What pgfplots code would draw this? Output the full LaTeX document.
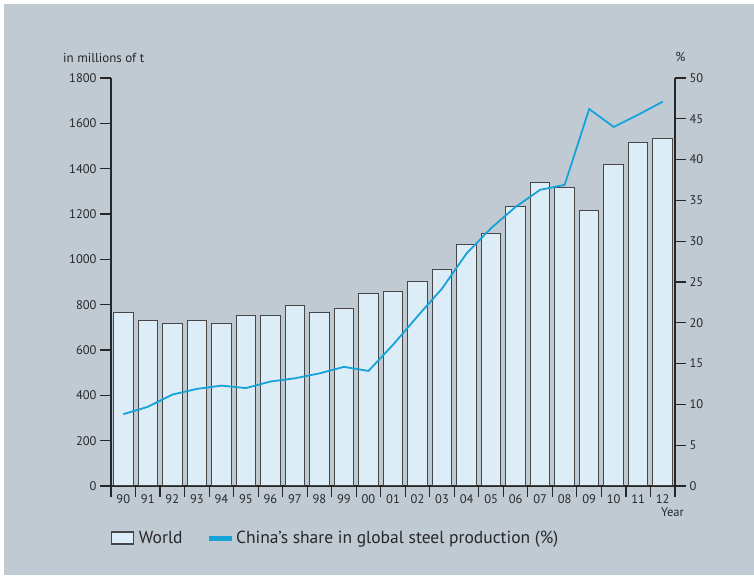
\documentclass[border=0pt]{standalone}
\usepackage{pgfplots}
\pgfplotsset{compat=1.18}
\usepackage{fontspec}
\setmainfont{PT Sans}
\definecolor{panel}{RGB}{192,202,211}
\definecolor{barfill}{RGB}{220,237,248}
\definecolor{baredge}{RGB}{70,70,70}
\definecolor{cnline}{RGB}{22,163,217}
\definecolor{txt}{RGB}{40,40,40}

\begin{document}
\begin{tikzpicture}[x=1pt,y=1pt]
\fill[white] (0,0) rectangle (754,575);
\fill[panel] (4,0) rectangle (754,571);

\pgfplotsset{
  base/.style={
    at={(111pt,89pt)}, anchor=south west,
    scale only axis, width=564pt, height=408pt,
    xmin=-0.5, xmax=22.5,
    axis line style={line width=1.1pt, color=black!85},
    tick style={line width=1.1pt, color=black!85},
    tick align=outside, major tick length=11pt,
    ticklabel style={font=\fontsize{12.5}{14}\selectfont, text=txt},
    /pgf/number format/assume math mode=true,
    /pgf/number format/1000 sep={},
  }
}

% world production, millions of t
\begin{axis}[base,
  axis x line*=bottom, axis y line*=left,
  ymin=0, ymax=1800, ytick={0,200,...,1800},
  xtick={-0.5,0.5,...,22.5}, xticklabels={},
  extra x ticks={0,...,22},
  extra x tick labels={90,91,92,93,94,95,96,97,98,99,00,01,02,03,04,05,06,07,08,09,10,11,12},
  extra x tick style={major tick length=0pt, ticklabel style={yshift=-5pt}},
]
\addplot[ybar, bar width=19.5pt, fill=barfill, draw=baredge, line width=1pt] coordinates {
  (0,767) (1,732) (2,719) (3,732) (4,719) (5,750) (6,750) (7,798) (8,767) (9,785)
  (10,851) (11,856) (12,900) (13,953) (14,1067) (15,1116) (16,1235) (17,1337)
  (18,1319) (19,1217) (20,1420) (21,1517) (22,1535)
};
\end{axis}

% China share, %
\begin{axis}[base,
  axis x line=none, axis y line*=right,
  ymin=0, ymax=50, ytick={0,5,...,50},
  legend style={at={(axis description cs:0,-0.105)}, anchor=north west,
    draw=none, fill=none, inner sep=0pt, legend columns=2,
    font=\fontsize{17.5}{19}\selectfont, text=txt,
    /tikz/every even column/.append style={column sep=21.5pt}},
  legend cell align=left,
]
\addlegendimage{legend image code/.code={\draw[fill=barfill, draw=baredge, line width=1.1pt] (0pt,-6pt) rectangle (22pt,6pt); \path (25pt,0pt);}}
\addlegendentry{World}
\addplot[cnline, line width=1.8pt,
  legend image code/.code={\draw[cnline, line width=5pt] (0pt,0pt) -- (23pt,0pt);}] coordinates {
  (0,8.8) (1,9.7) (2,11.2) (3,11.9) (4,12.3) (5,12.0) (6,12.8) (7,13.2) (8,13.8) (9,14.6)
  (10,14.1) (11,17.3) (12,20.8) (13,24.2) (14,28.5) (15,31.6) (16,34.2) (17,36.3)
  (18,36.9) (19,46.2) (20,44.0) (21,45.5) (22,47.1)
};
\addlegendentry{China’s share in global steel production (\%)}
\end{axis}

\node[anchor=base west, inner sep=0pt, font=\fontsize{13}{16}\selectfont, text=txt] at (63,512) {in millions of t};
\node[anchor=base, inner sep=0pt, font=\fontsize{13}{16}\selectfont, text=txt] at (680.5,513) {\%};
\node[anchor=base west, inner sep=0pt, font=\fontsize{12.5}{14}\selectfont, text=txt] at (661,58.3) {Year};
\end{tikzpicture}
\end{document}
